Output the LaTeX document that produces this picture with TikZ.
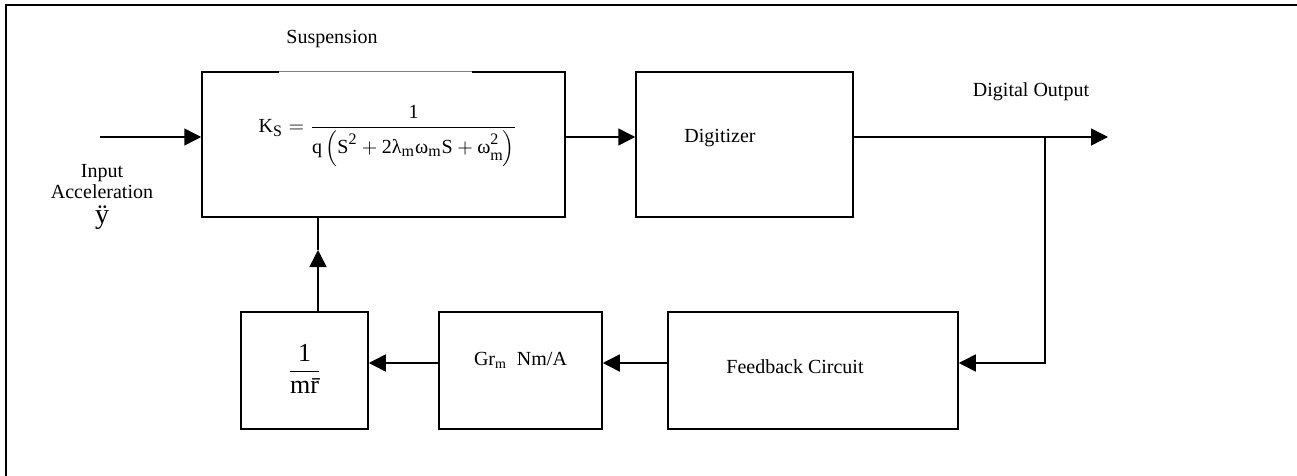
\documentclass[tikz,border=0pt]{standalone}
\usepackage{fontspec}
\setmainfont{Liberation Serif}
\usetikzlibrary{arrows.meta}
\begin{document}
\begin{tikzpicture}[x=0.5pt,y=-0.5pt,
  blk/.style={draw,line width=0.75pt,inner sep=0pt,minimum width=#1},
  lbl/.style={inner sep=0pt,font=\fontsize{10}{12}\selectfont},
  arr/.style={line width=0.75pt,-{Triangle[length=8.5pt,width=8.5pt]}},
  wire/.style={line width=0.75pt}]
\useasboundingbox (0,0) rectangle (1297,476);
% outer frame (top and left sides)
\draw[line width=1pt] (5.5,476) -- (5.5,5.5) -- (1297,5.5);

% blocks
\node[blk=181.5pt,minimum height=72.5pt] (susp) at (383.5,144.5) {};
\node[blk=108.5pt,minimum height=72.5pt] (dig) at (744.5,144.5) {};
\node[blk=145pt,minimum height=58.5pt] (fb) at (813,370.5) {};
\node[blk=81.5pt,minimum height=58.5pt] (gr) at (520.5,370.5) {};
\node[blk=63.5pt,minimum height=58.5pt] (inv) at (304.5,370.5) {};
% lighter segment of the suspension block's top edge
\draw[white,line width=1pt] (279,72) -- (472,72);
\draw[gray,line width=0.5pt] (279,72) -- (472,72);

% labels
\node[lbl] (suslbl) at (332,39) {Suspension};
\node[lbl,align=center] (inlbl) at (102,182) {Input\\[-1.5pt]Acceleration};
\node[inner sep=0pt,font=\fontsize{14}{16}\selectfont] (yddot) at (102,218) {ÿ};
\node[lbl] (diglbl) at (720,138) {Digitizer};
\node[lbl] (outlbl) at (1031,92) {Digital Output};
\node[lbl] (fblbl) at (795,367) {Feedback Circuit};
\node[lbl] (grlbl) at (520.5,360) {Gr\textsubscript{\fontsize{7}{8}\selectfont m}\hspace{5pt}Nm/A};
\node[inner sep=0pt,font=\fontsize{13}{15}\selectfont] (invlbl) at (304.5,369)
  {$\displaystyle\frac{\mbox{1}}{\mbox{m\=r}}$};
\node[inner sep=0pt,font=\fontsize{10}{12}\selectfont] (ks) at (388,136)
  {$\mbox{K}_{\mbox{\footnotesize S}} = \displaystyle\frac{\mbox{1}}{\mbox{q}\left(\mbox{S}^{\mbox{\footnotesize 2}} + \mbox{2λ}_{\mbox{\footnotesize m}}\mbox{ω}_{\mbox{\footnotesize m}}\mbox{S} + \mbox{ω\rlap{\raisebox{4.5pt}{\footnotesize 2}}\raisebox{-3.5pt}{\footnotesize m}}\right)}$};

% connector reference points
\coordinate (src) at (100,137);
\coordinate (toprow) at (0,137);
\coordinate (botrow) at (0,363);
\coordinate (branch) at (1045,137);
\coordinate (branchdn) at (1045,363);
\coordinate (outend) at (1108,137);
\coordinate (fbcol) at (318,0);
\coordinate (upmid) at (318,250);

% connectors
\draw[arr] (src) -- (susp.west |- toprow);
\draw[arr] (susp.east |- toprow) -- (dig.west |- toprow);
\draw[arr] (dig.east |- toprow) -- (outend);
\draw[arr] (branch) -- (branchdn) -- (fb.east |- botrow);
\draw[arr] (fb.west |- botrow) -- (gr.east |- botrow);
\draw[arr] (gr.west |- botrow) -- (inv.east |- botrow);
\draw[arr] (inv.north -| fbcol) -- (upmid);
\draw[wire] (upmid) -- (susp.south -| fbcol);
\end{tikzpicture}
\end{document}
